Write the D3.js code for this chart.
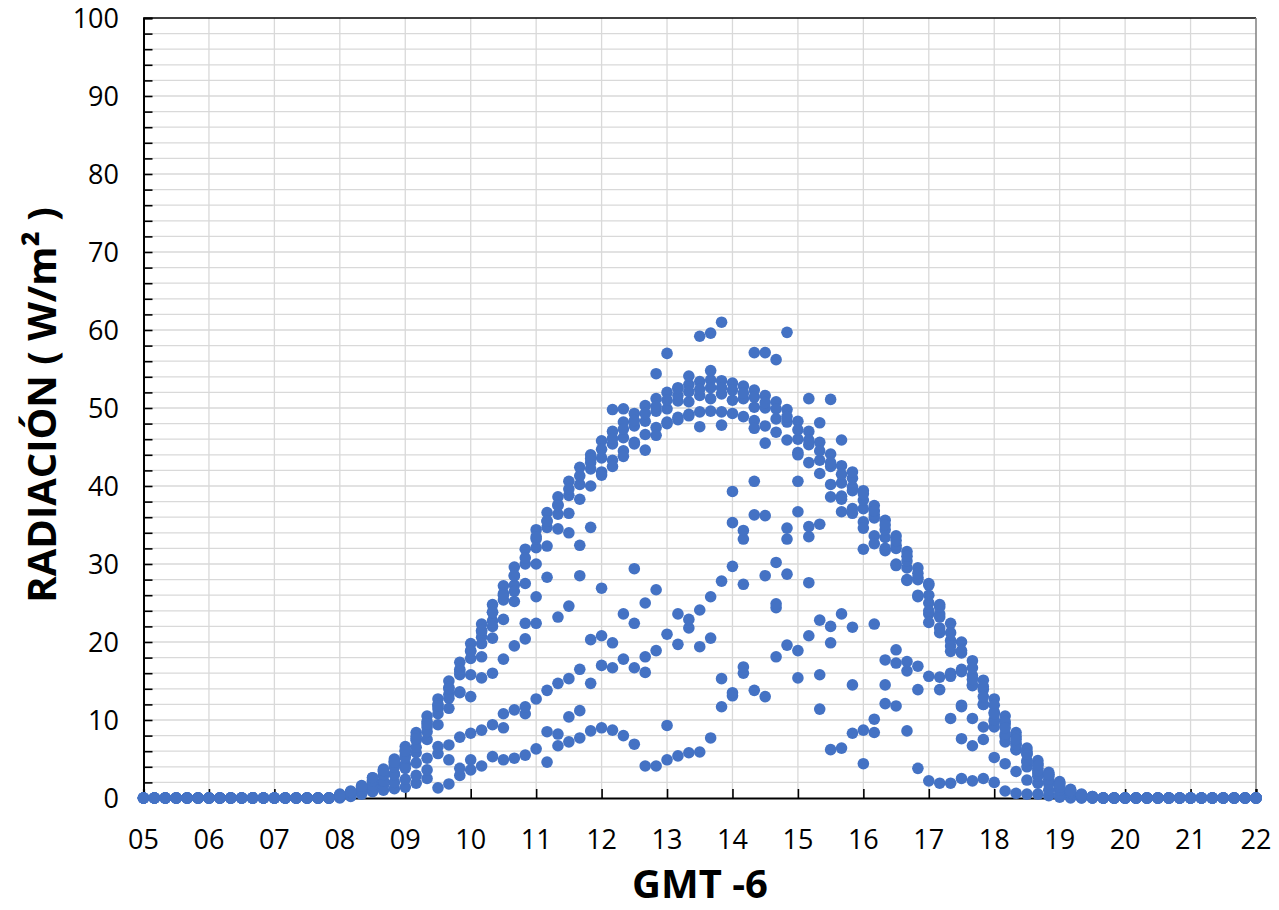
<!DOCTYPE html>
<html>
<head>
<meta charset="utf-8">
<script src="https://cdn.jsdelivr.net/npm/d3@7/dist/d3.min.js"></script>
<style>
  body { margin: 0; background: #fff; }
  svg { display: block; font-family: "Open Sans", "Noto Sans", sans-serif; }
</style>
</head>
<body>
<div id="chart"></div>
<script>
// Horas de muestreo (cada 10 minutos) durante el día
const dayTimes = [
  "08:00","08:10","08:20","08:30","08:40","08:50",
  "09:00","09:10","09:20","09:30","09:40","09:50",
  "10:00","10:10","10:20","10:30","10:40","10:50",
  "11:00","11:10","11:20","11:30","11:40","11:50",
  "12:00","12:10","12:20","12:30","12:40","12:50",
  "13:00","13:10","13:20","13:30","13:40","13:50",
  "14:00","14:10","14:20","14:30","14:40","14:50",
  "15:00","15:10","15:20","15:30","15:40","15:50",
  "16:00","16:10","16:20","16:30","16:40","16:50",
  "17:00","17:10","17:20","17:30","17:40","17:50",
  "18:00","18:10","18:20","18:30","18:40","18:50",
  "19:00","19:10","19:20","19:30"
];

// Horas nocturnas (radiación cero)
const nightTimes = [
  "05:00","05:10","05:20","05:30","05:40","05:50",
  "06:00","06:10","06:20","06:30","06:40","06:50",
  "07:00","07:10","07:20","07:30","07:40","07:50",
  "19:40","19:50",
  "20:00","20:10","20:20","20:30","20:40","20:50",
  "21:00","21:10","21:20","21:30","21:40","21:50",
  "22:00"
];

// Días despejados (W/m2)
const clearDay1 = [
  0.5, 0.9, 1.6, 2.6, 3.7, 5.0,
  6.6, 8.4, 10.5, 12.7, 15.0, 17.4,
  19.8, 22.3, 24.8, 27.2, 29.6, 31.9,
  34.4, 36.6, 38.6, 40.6, 42.4, 44.0,
  45.8, 47.0, 48.2, 49.3, 50.3, 51.2,
  52.0, 52.6, 53.0, 53.4, 53.6, 53.5,
  53.2, 52.8, 52.3, 51.6, 50.8, 49.8,
  48.3, 47.0, 45.6, 44.1, 42.6, 41.0,
  39.4, 37.5, 35.6, 33.6, 31.6, 29.5,
  27.3, 24.8, 22.4, 20.0, 17.6, 15.1,
  12.7, 10.5, 8.4, 6.4, 4.8, 3.3,
  2.1, 1.1, 0.5, 0.2
];
const clearDay2 = [
  0.3, 0.6, 1.1, 2.1, 2.9, 4.3,
  5.5, 7.4, 9.1, 11.4, 13.3, 15.8,
  17.9, 20.6, 22.7, 25.4, 27.3, 30.0,
  32.1, 34.7, 36.4, 38.8, 40.2, 42.2,
  43.6, 45.4, 46.2, 47.7, 48.3, 49.6,
  49.9, 50.9, 50.8, 51.6, 51.2, 51.8,
  51.0, 51.2, 50.1, 50.0, 48.6, 48.2,
  46.0, 45.3, 43.3, 42.5, 40.4, 39.4,
  37.1, 35.9, 33.4, 32.0, 29.5, 28.0,
  25.0, 23.2, 20.2, 18.6, 15.7, 13.9,
  11.0, 9.5, 7.0, 5.7, 3.8, 2.8,
  1.5, 0.9, 0.3, 0.1
];
const clearDay3 = [
  0.1, 0.3, 0.7, 1.3, 2.1, 3.1,
  4.3, 5.8, 7.5, 9.4, 11.5, 13.6,
  15.8, 18.1, 20.5, 22.9, 25.2, 27.5,
  30.0, 32.3, 34.5, 36.5, 38.3, 40.0,
  41.8, 43.3, 44.5, 45.6, 46.6, 47.5,
  48.2, 48.8, 49.2, 49.5, 49.6, 49.5,
  49.3, 48.9, 48.4, 47.7, 46.9, 45.9,
  44.3, 43.0, 41.6, 40.2, 38.7, 37.1,
  35.4, 33.6, 31.7, 29.8, 27.9, 25.8,
  23.6, 21.2, 18.8, 16.5, 14.4, 12.0,
  9.8, 7.9, 6.2, 4.6, 3.2, 2.1,
  1.1, 0.5, 0.1, 0.0
];
const clearDay4 = [
  0.4, 0.8, 1.4, 2.3, 3.4, 4.7,
  6.1, 7.9, 9.8, 12.0, 14.2, 16.5,
  18.9, 21.3, 23.8, 26.2, 28.5, 30.8,
  33.2, 35.5, 37.6, 39.6, 41.3, 43.0,
  44.7, 46.1, 47.3, 48.4, 49.3, 50.2,
  51.0, 51.6, 52.1, 52.4, 52.6, 52.6,
  52.3, 51.9, 51.4, 50.7, 49.9, 48.9,
  47.2, 45.9, 44.5, 43.0, 41.5, 39.9,
  38.2, 36.3, 34.4, 32.4, 30.4, 28.3,
  26.0, 23.6, 21.2, 18.9, 16.7, 14.3,
  11.9, 9.8, 7.9, 6.0, 4.4, 3.0,
  1.9, 1.0, 0.4, 0.1
];

// Días nublados (W/m2)
const cloudyDay1 = [
  0, 0.2, 0.5, 0.8, 1.0, 1.2,
  1.4, 1.9, 2.5, 1.3, 1.8, 2.9,
  3.6, 4.1, 5.3, 4.9, 5.1, 5.5,
  6.3, 4.6, 6.7, 7.2, 7.7, 8.6,
  9.0, 8.7, 8.0, 6.9, 4.1, 4.1,
  4.9, 5.4, 5.8, 5.9, 7.7, 11.7,
  13.1, 16.0, 13.8, 13.0, 18.1, 19.6,
  15.4, 20.8, 11.4, 6.2, 6.4, 8.3,
  4.4, 8.4, 12.1, 11.8, 8.6, 3.8,
  2.2, 1.9, 1.9, 2.5, 2.2, 2.5,
  2.0, 0.9, 0.6, 0.5, 0.5, 0.3,
  0.1, 0, 0, 0
];
const cloudyDay2 = [
  0.1, 0.4, 0.8, 1.2, 1.6, 2.0,
  2.4, 2.9, 3.6, 5.7, 4.9, 3.8,
  4.9, 8.7, 9.4, 9.0, 11.3, 10.8,
  12.7, 8.5, 8.2, 10.4, 11.2, 14.7,
  17.0, 16.7, 17.8, 16.7, 16.1, 18.9,
  9.3, 19.7, 21.8, 19.4, 20.5, 15.3,
  13.5, 16.8, 36.3, 28.5, 24.4, 28.7,
  18.9, 27.6, 15.8, 19.9, 23.6, 14.5,
  8.7, 10.1, 14.5, 17.3, 16.3, 13.9,
  15.6, 13.9, 10.2, 7.6, 6.7, 7.5,
  5.2, 4.4, 3.4, 2.3, 1.9, 1.0,
  0.5, 0.2, 0, 0
];
const cloudyDay3 = [
  0.2, 0.5, 1.0, 1.6, 2.2, 3.0,
  3.8, 4.5, 5.1, 6.6, 6.8, 7.8,
  8.3, 15.4, 16.0, 10.8, 19.5, 11.7,
  22.4, 13.8, 14.7, 15.3, 16.5, 20.3,
  20.8, 19.9, 23.6, 22.4, 18.1, 26.7,
  21.0, 23.6, 22.9, 24.1, 25.8, 27.8,
  29.7, 27.4, 40.6, 36.2, 24.9, 33.2,
  36.7, 33.5, 22.8, 22.0, 36.7, 21.9,
  31.9, 22.3, 17.7, 19.0, 17.5, 16.9,
  22.5, 15.5, 15.6, 11.7, 10.2, 9.1,
  9.1, 7.2, 6.2, 4.0, 2.8, 1.8,
  1.0, 0.5, 0.2, 0
];
const cloudyDay4 = [
  0.3, 0.7, 1.3, 2.2, 3.0, 4.0,
  5.2, 6.5, 8.5, 10.8, 12.8, 13.5,
  13.0, 19.8, 22.0, 17.8, 26.5, 20.4,
  25.8, 28.3, 23.2, 24.6, 28.5, 34.7,
  26.9, 42.5, 43.8, 29.4, 25.0, 46.5,
  48.0, 48.5, 49.0, 47.6, 54.8, 47.8,
  35.3, 33.2, 47.4, 45.5, 30.2, 34.6,
  40.6, 34.8, 35.1, 38.6, 38.3, 36.5,
  34.6, 32.6, 32.0, 30.0, 28.0, 26.0,
  24.0, 21.8, 16.0, 11.9, 14.5, 12.0,
  10.0, 8.2, 6.8, 4.8, 3.5, 2.4,
  1.4, 0.7, 0.3, 0.1
];
const cloudyDay5 = [
  0.4, 0.8, 1.5, 2.6, 3.5, 4.6,
  6.0, 7.6, 9.5, 11.8, 14.0, 16.2,
  18.8, 21.5, 23.8, 26.0, 28.5, 22.4,
  33.5, 35.5, 37.5, 34.0, 32.4, 43.5,
  41.4, 49.8, 49.9, 45.4, 44.6, 54.4,
  57.0, 52.5, 54.1, 59.2, 59.6, 61.0,
  39.3, 34.3, 57.1, 57.1, 56.2, 59.7,
  44.0, 51.2, 48.1, 51.1, 45.9, 41.8,
  39.0, 36.8, 35.0, 33.0, 31.0, 28.8,
  27.5, 24.5, 19.5, 16.2, 15.2, 13.0,
  10.8, 9.0, 7.5, 5.6, 4.2, 3.0,
  1.8, 0.9, 0.4, 0.2
];

const xTickLabels = ["05","06","07","08","09","10","11","12","13","14","15","16","17","18","19","20","21","22"];
const yTickLabels = [0, 10, 20, 30, 40, 50, 60, 70, 80, 90, 100];

// Configuración de la visualización
const width = 1279;
const height = 910;
const plot = { left: 143.5, right: 1256, top: 18, bottom: 798 };
const dotColor = "#4472C4";

const toHours = s => +s.slice(0, 2) + (+s.slice(3, 5)) / 60;

const x = d3.scaleLinear().domain([5, 22]).range([plot.left, plot.right]);
const y = d3.scaleLinear().domain([0, 100]).range([plot.bottom, plot.top]);

const svg = d3.select("#chart")
  .append("svg")
  .attr("width", width)
  .attr("height", height);

// Rejilla
const grid = svg.append("g");
grid.selectAll(".hgrid")
  .data(d3.range(2, 100, 2))
  .enter().append("line")
  .attr("x1", plot.left).attr("x2", plot.right)
  .attr("y1", d => y(d)).attr("y2", d => y(d))
  .attr("stroke", "#d9d9d9").attr("stroke-width", 1.3);
grid.selectAll(".vgrid")
  .data(d3.range(6, 22))
  .enter().append("line")
  .attr("x1", d => x(d)).attr("x2", d => x(d))
  .attr("y1", plot.top).attr("y2", plot.bottom)
  .attr("stroke", "#d9d9d9").attr("stroke-width", 1.3);

// Marco superior y derecho
svg.append("line")
  .attr("x1", plot.left).attr("x2", plot.right)
  .attr("y1", plot.top).attr("y2", plot.top)
  .attr("stroke", "#000").attr("stroke-width", 1.5);
svg.append("line")
  .attr("x1", plot.right).attr("x2", plot.right)
  .attr("y1", plot.top).attr("y2", plot.bottom)
  .attr("stroke", "#7f7f7f").attr("stroke-width", 1.5);

// Eje Y
const yAxis = svg.append("g")
  .attr("transform", `translate(${plot.left},0)`)
  .call(d3.axisRight(y).tickValues(d3.range(0, 101, 2)).tickSize(9).tickFormat(""));
yAxis.select(".domain").attr("stroke", "#000").attr("stroke-width", 2);
yAxis.selectAll(".tick line").attr("stroke", "#000").attr("stroke-width", 1.6);

svg.append("g").selectAll("text")
  .data(yTickLabels)
  .enter().append("text")
  .attr("x", 119)
  .attr("y", d => y(d))
  .attr("dy", "0.36em")
  .attr("text-anchor", "end")
  .attr("font-size", 27)
  .attr("fill", "#000")
  .text(d => d);

// Eje X
const xAxis = svg.append("g")
  .attr("transform", `translate(0,${plot.bottom})`)
  .call(d3.axisTop(x).tickValues(d3.range(5, 23)).tickSize(9).tickFormat(""));
xAxis.select(".domain").attr("stroke", "#000").attr("stroke-width", 2.2);
xAxis.selectAll(".tick line").attr("stroke", "#000").attr("stroke-width", 1.6);

svg.append("g").selectAll("text")
  .data(xTickLabels)
  .enter().append("text")
  .attr("x", d => x(+d))
  .attr("y", 839)
  .attr("dy", "0.36em")
  .attr("text-anchor", "middle")
  .attr("font-size", 27)
  .attr("fill", "#000")
  .text(d => d);

// Títulos de ejes
svg.append("text")
  .attr("x", 700)
  .attr("y", 884)
  .attr("dy", "0.35em")
  .attr("text-anchor", "middle")
  .attr("font-size", 40)
  .attr("font-weight", "bold")
  .text("GMT -6");

svg.append("text")
  .attr("transform", "translate(42,405) rotate(-90)")
  .attr("dy", "0.35em")
  .attr("text-anchor", "middle")
  .attr("font-size", 40)
  .attr("font-weight", "bold")
  .text("RADIACIÓN ( W/m² )");

// Puntos
const days = [clearDay1, clearDay2, clearDay3, clearDay4,
  cloudyDay1, cloudyDay2, cloudyDay3, cloudyDay4, cloudyDay5];

const points = [];
days.forEach(values => {
  nightTimes.forEach(t => points.push({ t: toHours(t), v: 0 }));
  values.forEach((v, i) => points.push({ t: toHours(dayTimes[i]), v: v }));
});

svg.append("g").selectAll("circle")
  .data(points)
  .enter().append("circle")
  .attr("cx", d => x(d.t))
  .attr("cy", d => y(d.v))
  .attr("r", 5.8)
  .attr("fill", dotColor);
</script>
</body>
</html>
